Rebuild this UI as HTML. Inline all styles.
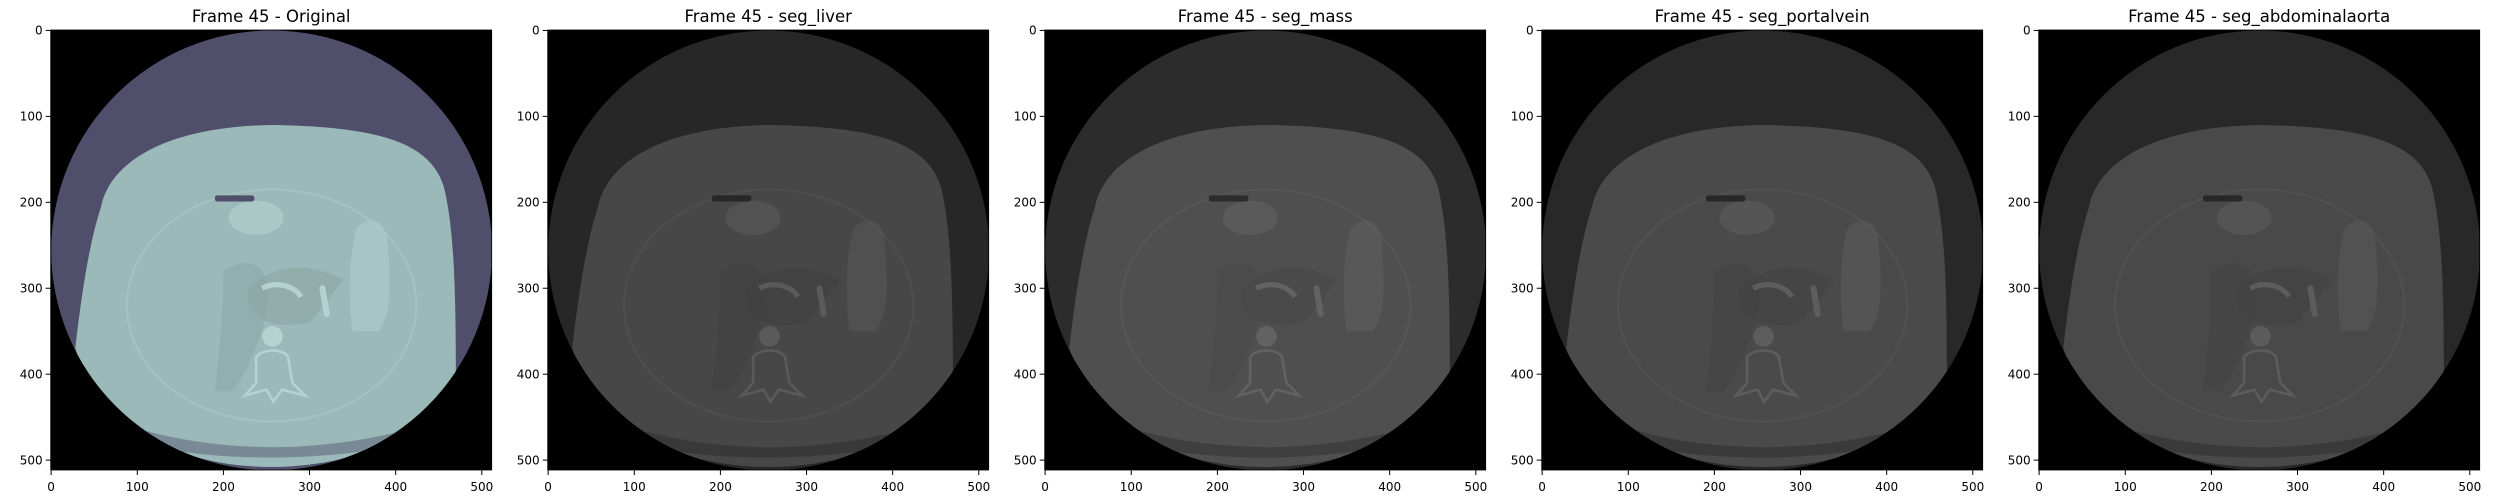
<!DOCTYPE html>
<html><head><meta charset="utf-8"><style>
html,body{margin:0;padding:0;background:#fff;}
svg{display:block;font-family:"DejaVu Sans","Liberation Sans",sans-serif;}
</style></head><body>
<svg id="fig" width="2500" height="500" viewBox="0 0 2500 500" xmlns="http://www.w3.org/2000/svg"></svg>
<script>
const panelTitles = ["Frame 45 - Original","Frame 45 - seg_liver","Frame 45 - seg_mass","Frame 45 - seg_portalvein","Frame 45 - seg_abdominalaorta"];
const tickValues = [0,100,200,300,400,500];
const tickLabels = ["0","100","200","300","400","500"];
const imageSize = [512, 512];
const palettes = [
 {fov:"#4f4f6b", body:"#9bb9b8", bright:"#b4d2cf", dark:"#8aa6a5", ring:"#a4c2c0"},
 {fov:"#272727", body:"#474747", bright:"#5a5a5a", dark:"#3f3f3f", ring:"#4e4e4e"},
 {fov:"#2c2c2c", body:"#4f4f4f", bright:"#626262", dark:"#474747", ring:"#565656"},
 {fov:"#282828", body:"#4a4a4a", bright:"#5d5d5d", dark:"#424242", ring:"#515151"},
 {fov:"#282828", body:"#494949", bright:"#5c5c5c", dark:"#414141", ring:"#505050"}
];
const NS="http://www.w3.org/2000/svg";
const fig=document.getElementById('fig');
const PX0=50.7, STEP=497, PW=441, PY0=30, PH=440;
function mk(tag,attrs,parent){const e=document.createElementNS(NS,tag);for(const k in attrs)e.setAttribute(k,attrs[k]);parent.appendChild(e);return e;}
panelTitles.forEach((title,i)=>{
  const x0=PX0+i*STEP;
  const sx=v=>x0+(v+0.5)*PW/imageSize[0];
  const sy=v=>PY0+(v+0.5)*PH/imageSize[1];
  const p=palettes[i];
  const g=mk('g',{},fig);
  
  
  const t=mk('text',{x:x0+PW/2,y:22,'text-anchor':'middle','font-size':'16.5',fill:'#000'},g);
  
  
  t.textContent=title;
  const img=mk('svg',{x:x0,y:PY0,width:PW,height:PH,viewBox:'-0.5 -0.5 512 512',preserveAspectRatio:'none'},g);
  
  
  mk('rect',{x:-0.5,y:-0.5,width:512,height:512,fill:'#000'},img);
  const cid='clip'+i;
  const defs=mk('defs',{},img);
  const cp=mk('clipPath',{id:cid},defs);
  mk('circle',{cx:256,cy:256,r:256},cp);
  const inner=mk('g',{'clip-path':'url(#'+cid+')'},img);
  mk('circle',{cx:256,cy:256,r:256,fill:p.fov},inner);
  mk('path',{d:'M58,205 C68,155 130,112 256,110 C380,112 440,130 456,182 C468,232 470,300 470,420 C440,470 350,508 256,508 C160,508 60,470 28,370 C36,300 45,245 58,205 Z',fill:p.body},inner);
  mk('path',{d:'M40,440 C120,478 200,484 256,485 C330,485 420,470 480,440 L480,462 C420,485 330,497 256,497 C190,497 110,490 40,460 Z',fill:p.fov,opacity:'0.45'},inner);
  mk('ellipse',{cx:256,cy:320,rx:168,ry:135,fill:'none',stroke:p.ring,'stroke-width':2.5},inner);
  mk('path',{d:'M340,290 C300,270 260,270 230,300 C220,330 250,350 300,340 Z',fill:p.dark,opacity:'0.6'},inner);
  mk('path',{d:'M200,280 C230,260 260,270 250,330 C240,370 220,410 210,420 L190,420 C195,380 200,330 200,280Z',fill:p.dark,opacity:'0.5'},inner);
  mk('path',{d:'M355,230 C370,215 385,220 390,240 C395,300 395,330 380,350 L350,350 C345,320 345,260 355,230Z',fill:p.bright,opacity:'0.5'},inner);
  mk('ellipse',{cx:238,cy:218,rx:32,ry:20,fill:p.bright,opacity:'0.6'},inner);
  mk('rect',{x:190,y:192,width:46,height:7,rx:3,fill:p.fov},inner);
  mk('circle',{cx:257,cy:356,r:12,fill:p.bright},inner);
  mk('path',{d:'M238,380 C245,370 270,370 275,380 L280,410 L295,425 L268,418 L258,432 L250,418 L225,425 L238,410Z',fill:'none',stroke:p.bright,'stroke-width':3},inner);
  mk('path',{d:'M245,300 C265,290 285,300 290,310',fill:'none',stroke:p.bright,'stroke-width':6},inner);
  mk('path',{d:'M320,330 L315,300',fill:'none',stroke:p.bright,'stroke-width':7,'stroke-linecap':'round'},inner);
  const axes=mk('g',{},g);
  
  
  tickValues.forEach((v,k)=>{
    const xx=sx(v), yy=sy(v);
    mk('line',{x1:xx,y1:PY0+PH,x2:xx,y2:PY0+PH+5,stroke:'#000','stroke-width':1},axes);
    const xl=mk('text',{x:xx,y:PY0+PH+21,'text-anchor':'middle','font-size':'12',fill:'#000'},axes);
    
    
    xl.textContent=tickLabels[k];
    mk('line',{x1:x0-5,y1:yy,x2:x0,y2:yy,stroke:'#000','stroke-width':1},axes);
    const yl=mk('text',{x:x0-8,y:yy+4.3,'text-anchor':'end','font-size':'12',fill:'#000'},axes);
    
    
    yl.textContent=tickLabels[k];
  });
  mk('rect',{x:x0,y:PY0,width:PW,height:PH,fill:'none',stroke:'#000','stroke-width':0.8},axes);
});
</script>
</body></html>
